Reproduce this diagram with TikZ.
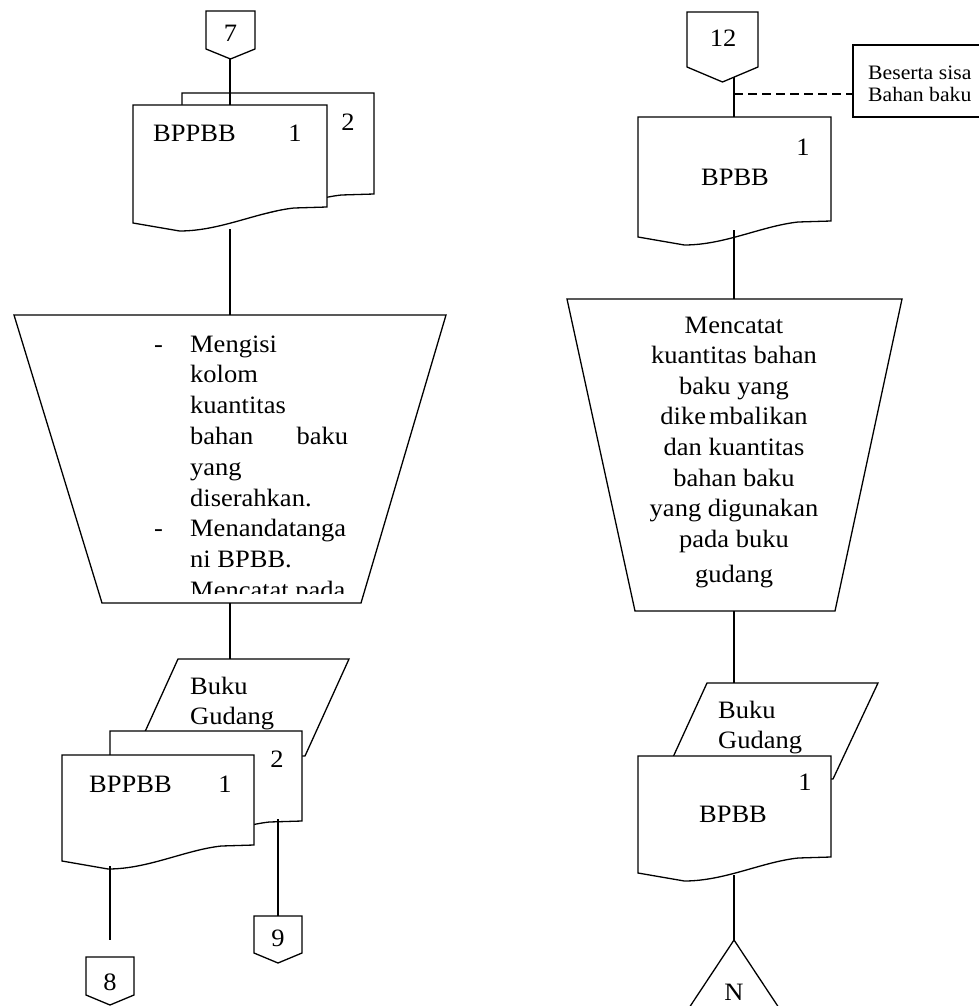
\documentclass[tikz,border=0pt]{standalone}
\usepackage{fontspec}
\setmainfont{Liberation Serif}[FakeStretch=1.06]

% document symbol: left x, top y, right x, y where the right side ends
\newcommand{\docpath}[4]{(#1,#2) -- (#3,#2) -- (#3,#4)
  -- ({#3-0.17*(#3-#1)},{#4+1})
  .. controls ({#3-0.36*(#3-#1)},{#4+5}) and ({#3-0.55*(#3-#1)},{#4+24}) .. ({#1+0.24*(#3-#1)},{#4+24})
  -- (#1,{#4+16}) -- cycle}
% off-page connector: left x, top y, right x, side bottom y, tip y
\newcommand{\offpath}[5]{(#1,#2) -- (#3,#2) -- (#3,#4) -- ({(#1+#3)/2},#5) -- (#1,#4) -- cycle}

\tikzset{
  outline/.style={draw=black, line width=1.3pt, fill=white, line join=miter},
  flow/.style={draw=black, line width=1.3pt},
  note/.style={draw=black, line width=1.2pt, dash pattern=on 9pt off 5pt},
  lbl/.style={inner sep=0pt, font=\fontsize{25}{30.8}\selectfont},
  small/.style={inner sep=0pt, font=\fontsize{20.5}{22}\selectfont},
}

\begin{document}
\begin{tikzpicture}[x=1pt,y=-1pt]
\useasboundingbox (0,0) rectangle (978,1006);

% ---------------- left column ----------------
\path[outline] \offpath{206}{11}{255}{49}{59};
\node[lbl] (n7) at (230.5,33) {7};
\coordinate (c7out) at (230,59);

\path[outline] \docpath{182}{93}{374}{194};
\path[outline] \docpath{133}{105}{327}{207};
\coordinate (d1in) at (230,105);
\coordinate (d1out) at (230,229);
\node[lbl, anchor=base west] (d1name) at (153,142) {BPPBB};
\node[lbl, anchor=base] (d1no) at (295,142) {1};
\node[lbl, anchor=base] (d1no2) at (348,131) {2};

\path[outline] (14,315) -- (446,315) -- (361,603) -- (102,603) -- cycle;
\coordinate (m1in) at (230,315);
\coordinate (m1out) at (230,603);
\begin{scope}
  \clip (0,316) rectangle (978,593);
  \node[lbl, anchor=base west] (m1text) at (154,352) {\begin{tabular}[t]{@{}p{36pt}@{}p{158pt}@{}}
  -&Mengisi\\
   &kolom\\
   &kuantitas\\
   &bahan\hfill baku\\
   &yang\\
   &diserahkan.\\
  -&Menandatanga\\
   &ni BPBB.\\
   &Mencatat pada
  \end{tabular}};
\end{scope}

\path[outline] (178,659) -- (349,659) -- (305,756) -- (134,756) -- cycle;
\coordinate (b1in) at (230,659);
\node[lbl, anchor=base west] (b1text) at (190,694) {\begin{tabular}[t]{@{}l@{}}Buku\\Gudang\end{tabular}};

\path[outline] \docpath{110}{731}{302}{821};
\path[outline] \docpath{62}{755}{254}{845};
\node[lbl, anchor=base west] (d2name) at (89,792) {BPPBB};
\node[lbl, anchor=base] (d2no) at (225,792) {1};
\node[lbl, anchor=base] (d2no2) at (277,767) {2};
\coordinate (d2out) at (110,866);
\coordinate (d2copy) at (278,819);
\coordinate (d2end) at (110,940);

\path[outline] \offpath{254}{916}{302}{953}{963};
\node[lbl] (n9) at (278,938) {9};
\coordinate (c9in) at (278,916);

\path[outline] \offpath{86}{957}{134}{995}{1005};
\node[lbl] (n8) at (110,982) {8};

% ---------------- right column ----------------
\path[outline] \offpath{687}{12}{758}{67}{82};
\node[lbl] (n12) at (723,38) {12};
\coordinate (c12out) at (734,77);
\coordinate (tap) at (734,94);

\draw[line width=1.2pt] (990,45) -- (853,45) -- (853,117) -- (990,117);
\coordinate (boxin) at (853,94);
\node[small, anchor=base west] (boxtext) at (868,80) {\begin{tabular}[t]{@{}l@{}}Beserta sisa\\Bahan baku\end{tabular}};

\path[outline] \docpath{638}{117}{831}{221};
\coordinate (d3in) at (734,117);
\coordinate (d3out) at (734,230);
\node[lbl, anchor=base] (d3no) at (803,155) {1};
\node[lbl, anchor=base] (d3name) at (735,185) {BPBB};

\path[outline] (567,299) -- (902,299) -- (835,611) -- (635,611) -- cycle;
\coordinate (m2in) at (734,299);
\coordinate (m2out) at (734,611);
\node[lbl, anchor=base, font=\fontsize{25}{30.6}\selectfont] (m2text) at (734,333) {\begin{tabular}[t]{@{}c@{}}
  Mencatat\\
  kuantitas bahan\\
  baku yang\\
  dike\hspace{3pt}mbalikan\\
  dan kuantitas\\
  bahan baku\\
  yang digunakan\\
  pada buku\\[5pt]
  gudang
\end{tabular}};

\path[outline] (707,683) -- (878,683) -- (833,779) -- (663,779) -- cycle;
\coordinate (b2in) at (734,683);
\node[lbl, anchor=base west] (b2text) at (718,718) {\begin{tabular}[t]{@{}l@{}}Buku\\Gudang\end{tabular}};

\path[outline] \docpath{638}{756}{831}{857};
\node[lbl, anchor=base] (d4no) at (805,790) {1};
\node[lbl, anchor=base] (d4name) at (733,822) {BPBB};
\coordinate (d4out) at (734,875);

\path[outline] (734,940) -- (685,1014) -- (783,1014) -- cycle;
\coordinate (tri) at (734,940);
\node[lbl, anchor=base] (nN) at (734,1000) {N};

% ---------------- flow lines ----------------
\draw[flow] (c7out) -- (d1in);
\draw[flow] (d1out) -- (m1in);
\draw[flow] (m1out) -- (b1in);
\draw[flow] (d2out) -- (d2end);
\draw[flow] (d2copy) -- (c9in);

\draw[flow] (c12out) -- (d3in);
\draw[note] (tap) -- (boxin);
\draw[flow] (d3out) -- (m2in);
\draw[flow] (m2out) -- (b2in);
\draw[flow] (d4out) -- (tri);
\end{tikzpicture}
\end{document}
